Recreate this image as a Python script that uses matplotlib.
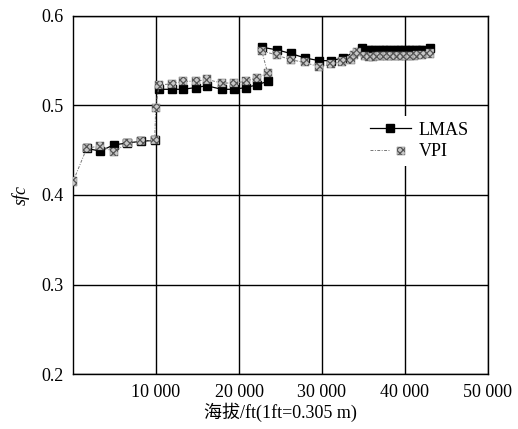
import numpy as np
import matplotlib
matplotlib.use("Agg")
import matplotlib.pyplot as plt
from matplotlib.lines import Line2D
from matplotlib.legend_handler import HandlerTuple

plt.rcParams['font.family'] = ['Liberation Serif', 'Noto Sans CJK SC']
plt.rcParams['hatch.linewidth'] = 0.9

# altitude (ft) and sfc values
lmas_x = [1640, 3280, 4920, 6560, 8200, 9840, 9900,
          10360, 11890, 13290, 14780, 16110, 17920, 19440, 20810, 22210, 23460, 23000,
          22740, 24620, 26230, 27960, 29640, 31090, 32540, 34790,
          35500, 35950, 36400, 36850, 37300, 37750, 38200, 38650, 39100, 39550,
          40000, 40450, 40900, 41350, 41800, 42100, 43020]
lmas_y = [0.452, 0.449, 0.456, 0.458, 0.460, 0.461, np.nan,
          0.518, 0.518, 0.518, 0.520, 0.522, 0.518, 0.518, 0.520, 0.523, 0.527, np.nan,
          0.565, 0.562, 0.558, 0.553, 0.550, 0.550, 0.553, 0.564,
          0.562, 0.562, 0.562, 0.562, 0.562, 0.562, 0.562, 0.562, 0.562, 0.562,
          0.562, 0.562, 0.562, 0.562, 0.562, 0.562, 0.564]

vpi_x = [0, 1640, 3280, 4920, 6560, 8200, 9840, 9960,
         10360, 11890, 13290, 14780, 16110, 17920, 19440, 20810, 22210, 23460,
         22740, 24620, 26230, 27960, 29640, 31090, 32370, 33500, 33850, 34200,
         35200, 35650, 36100, 36550, 37000, 37450, 37900, 38350, 38800, 39250,
         39700, 40150, 40600, 41050, 41500, 42000, 43020]
vpi_y = [0.415, 0.452, 0.455, 0.448, 0.458, 0.460, 0.461, 0.497,
         0.523, 0.524, 0.527, 0.527, 0.529, 0.525, 0.525, 0.527, 0.531, 0.536,
         0.561, 0.556, 0.551, 0.548, 0.543, 0.546, 0.549, 0.551, 0.556, 0.560,
         0.555, 0.554, 0.554, 0.555, 0.555, 0.555, 0.555, 0.555, 0.555, 0.555,
         0.555, 0.555, 0.555, 0.555, 0.556, 0.556, 0.558]

x_ticks = [10000, 20000, 30000, 40000, 50000]
x_ticklabels = ['10 000', '20 000', '30 000', '40 000', '50 000']
y_ticks = [0.2, 0.3, 0.4, 0.5, 0.6]

fig = plt.figure(figsize=(5.18, 4.29), dpi=100)
ax = fig.add_axes([0.141, 0.128, 0.801, 0.835])

ax.set_xlim(0, 50000)
ax.set_ylim(0.2, 0.6)
ax.set_xticks(x_ticks)
ax.set_xticklabels(x_ticklabels)
ax.set_yticks(y_ticks)
ax.set_yticklabels([f'{v:.1f}' for v in y_ticks])
ax.tick_params(length=0, labelsize=13, pad=7)
ax.grid(True, color='black', linewidth=1.0)
ax.set_axisbelow(True)
for s in ax.spines.values():
    s.set_linewidth(1.0)

mk = dict(marker='s', s=34, facecolor='#c8c8c8', edgecolor='#555555',
          hatch='xxxxx', linewidth=0.3)

ax.plot(lmas_x, lmas_y, color='black', lw=0.9, marker='s', markersize=5.5,
        markerfacecolor='black', markeredgecolor='black', zorder=3)
ax.plot(vpi_x, vpi_y, color='#777777', lw=0.7, ls=(0, (3, 1.5, 1, 1.5)), zorder=4)
ax.scatter(vpi_x, vpi_y, zorder=5, **mk)

h_lmas = Line2D([], [], color='black', lw=0.9, marker='s', markersize=5.5)
h_vpi_line = Line2D([], [], color='#777777', lw=0.7, ls=(0, (3, 1.5, 1, 1.5)))
h_vpi_mark = ax.scatter([], [], **mk)
leg = ax.legend([h_lmas, (h_vpi_line, h_vpi_mark)], ['LMAS', 'VPI'],
                handler_map={tuple: HandlerTuple(ndivide=None, pad=0)},
                loc='upper left', bbox_to_anchor=(0.68, 0.745), fontsize=13,
                frameon=True, facecolor='white', edgecolor='none', framealpha=1,
                handlelength=2.3, handletextpad=0.4, labelspacing=0.25,
                borderpad=0.3)

ax.set_xlabel('海拔/ft(1ft=0.305 m)', fontsize=13, labelpad=1)
ax.set_ylabel('sfc', fontsize=13, style='italic', labelpad=8)

fig.savefig('out.png', dpi=100)
